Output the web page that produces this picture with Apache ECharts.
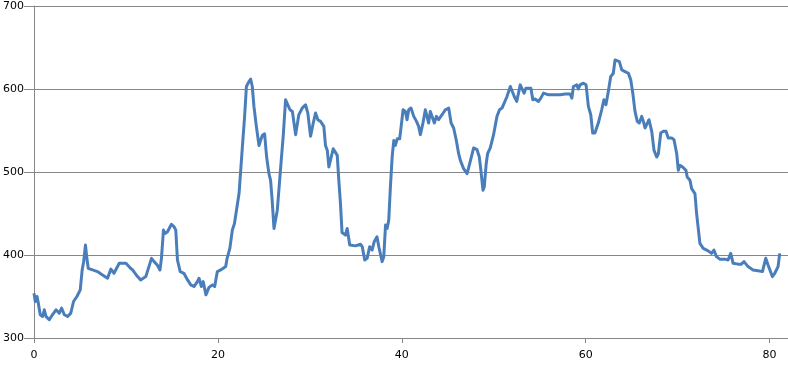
<!DOCTYPE html>
<html>
<head>
<meta charset="utf-8">
<script src="https://cdn.jsdelivr.net/npm/echarts@6/dist/echarts.min.js"></script>
<style>
html,body{margin:0;padding:0;background:#fff;}
#chart{width:788px;height:365px;}
</style>
</head>
<body>
<div id="chart"></div>
<script>
var xValues = [
0,0.14,0.33,0.47,0.68,0.94,1.12,1.3,1.66,2.0,2.39,2.75,3.0,3.3,3.66,4.0,4.3,4.67,5.03,5.24,5.4,5.6,5.75,5.9,6.37,6.9,7.45,8.0,8.36,8.7,9.27,10.0,10.5,
10.72,11.26,11.6,12.16,12.5,12.78,13.06,13.4,13.7,13.86,14.08,14.26,14.52,14.7,14.95,15.23,15.42,15.6,15.9,16.3,16.7,17.05,17.4,17.77,17.95,18.2,18.4,18.7,19.03,19.4,19.65,19.94,20.3,20.85,
21.0,21.3,21.57,21.8,22.0,22.3,22.66,22.9,23.1,23.38,23.56,23.74,23.92,24.18,24.47,24.64,24.83,25.08,25.3,25.55,25.73,25.9,26.1,26.24,26.46,26.8,27.1,27.36,27.55,27.84,28.1,28.28,28.45,28.65,28.8,29.17,29.53,29.78,30.08,30.37,30.62,30.87,31.16,31.52,31.7,31.9,32.07,32.25,32.54,32.72,32.98,33.15,
33.33,33.5,33.88,34.06,34.34,34.96,35.5,35.7,35.97,36.23,36.5,36.77,37.0,37.3,37.5,37.86,38.04,38.23,38.4,38.58,38.76,38.95,39.13,39.3,39.5,39.77,39.93,40.14,40.39,40.57,40.75,41.0,41.3,41.6,41.83,42.02,42.3,42.56,42.74,42.92,43.1,43.28,43.54,43.76,44.0,44.38,44.74,45.1,45.36,45.64,45.93,46.18,46.37,
46.72,47.1,47.45,47.81,48.18,48.43,48.6,48.83,48.97,49.18,49.33,49.62,49.8,49.98,50.16,50.35,50.63,50.9,51.07,51.44,51.8,51.98,52.23,52.5,52.7,52.88,53.06,53.3,53.5,53.78,54.04,54.25,54.5,54.86,55.12,55.41,55.96,56.68,57.23,57.77,58.3,58.5,58.66,59.03,59.2,
59.39,59.75,60.04,60.29,60.55,60.76,61.0,61.37,61.74,61.98,62.2,62.46,62.72,63.0,63.19,63.37,63.66,63.92,64.28,64.64,64.9,65.12,65.36,65.61,65.83,66.09,66.27,66.45,66.64,66.88,67.18,67.43,67.72,67.9,68.16,68.44,68.73,68.98,69.35,69.6,69.9,70.07,70.25,70.54,70.9,71.04,71.34,71.52,71.88,72.06,72.24,72.42,
72.78,73.32,73.68,73.94,74.22,74.58,75.12,75.48,75.77,76.03,76.57,76.93,77.22,77.65,78.2,78.74,79.22,79.58,79.83,80.3,80.56,80.92,81.1
];
var yValues = [
354,344,350,342,328,326,334,326,322,328,334,330,336,328,326,330,344,350,358,382,392,412,396,384,382,380,376,372,383,378,390,390,384,
382,374,370,374,386,396,392,388,382,396,430,426,428,428,437,434,430,394,380,378,370,364,362,368,372,362,368,352,361,364,362,380,382,386,
396,408,430,438,440,474,530,566,603,609,612,603,579,555,532,538,544,546,518,498,490,466,432,432,454,502,543,587,589,575,573,575,545,543,569,577,581,571,543,559,571,563,561,555,532,526,506,504,528,528,520,490,
462,427,424,432,412,411,413,410,394,396,410,406,416,422,410,392,398,436,432,442,482,518,538,532,540,540,555,575,573,563,575,577,567,561,555,545,559,575,573,559,573,573,559,567,563,569,575,577,559,553,538,522,514,
504,498,513,529,527,518,502,478,482,510,522,529,537,545,545,567,575,577,579,591,603,603,591,585,587,605,607,595,601,601,601,587,588,585,589,595,593,593,593,594,594,589,603,605,600,
605,607,605,579,569,547,547,559,575,587,581,597,615,619,635,637,633,623,621,619,611,595,573,561,559,567,561,553,555,563,549,526,518,522,547,549,549,541,541,539,522,502,508,506,502,494,490,480,474,450,432,414,
408,405,402,406,398,395,395,394,402,390,389,389,392,386,382,381,380,396,388,374,378,386,402
];
var xTicks = [0, 20, 40, 60, 80];
var yTicks = [300, 400, 500, 600, 700];

var seriesData = xValues.map(function (x, i) { return [x, yValues[i]]; });

var chart = echarts.init(document.getElementById('chart'), null, {renderer: 'canvas'});
var axisGray = '#878787';
var labelFont = {color: '#000', fontFamily: 'DejaVu Sans', fontSize: 11};
chart.setOption({
  animation: false,
  backgroundColor: '#fff',
  grid: {left: 33, right: 0, top: 6, bottom: 27, containLabel: false},
  xAxis: {
    type: 'value',
    min: 0,
    max: 82,
    interval: 20,
    axisLine: {show: true, lineStyle: {color: axisGray, width: 1}},
    axisTick: {show: true, length: 5, lineStyle: {color: axisGray}},
    splitLine: {show: false},
    axisLabel: Object.assign({
      margin: 12,
      showMaxLabel: false,
      formatter: function (v) { return xTicks.indexOf(v) >= 0 ? String(v) : ''; }
    }, labelFont)
  },
  yAxis: {
    type: 'value',
    min: 300,
    max: 700,
    interval: 100,
    axisLine: {show: true, lineStyle: {color: axisGray, width: 1}},
    axisTick: {show: true, length: 10, lineStyle: {color: axisGray}},
    splitLine: {show: true, lineStyle: {color: axisGray, width: 1}},
    axisLabel: Object.assign({
      margin: 10,
      formatter: function (v) { return yTicks.indexOf(v) >= 0 ? String(v) : ''; }
    }, labelFont)
  },
  series: [{
    type: 'line',
    data: seriesData,
    showSymbol: false,
    symbol: 'none',
    smooth: false,
    lineStyle: {color: '#4a7ebb', width: 3, join: 'round'},
    itemStyle: {color: '#4a7ebb'}
  }]
});
</script>
</body>
</html>
